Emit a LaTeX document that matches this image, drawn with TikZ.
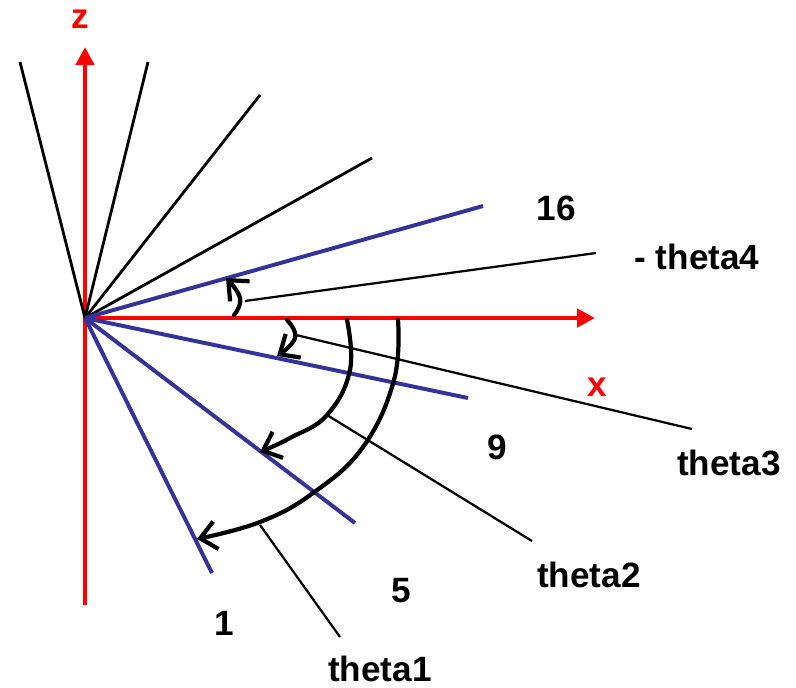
\documentclass[tikz,border=0pt]{standalone}
\usepackage{fontspec}
\setmainfont{Liberation Sans}
\usepackage{tikz}
\usetikzlibrary{arrows.meta,positioning}
\definecolor{raycolor}{RGB}{51,51,153}

\begin{document}
\begin{tikzpicture}[x=0.025cm, y=-0.025cm, thick,
    axis/.style={red, line width=3.4pt, -{Triangle[length=4.5mm, width=4.5mm]}},
    ray/.style={black, line width=2pt},
    bluray/.style={raycolor, line width=2.8pt},
    leader/.style={black, line width=1.6pt},
    turn/.style={black, line width=3pt, line cap=round, -{Straight Barb[length=4mm, width=7mm]}},
    lbl/.style={inner sep=0pt, font=\fontsize{25}{30}\selectfont\bfseries},
    axlbl/.style={lbl, red}]
        \useasboundingbox (0,0) rectangle (796,687);
        \coordinate (O) at (85,318);

        % Axes
        \draw[axis] (85,605) -- (85,47);
        \draw[axis] (O) -- (595,318);
        \node[axlbl] (zl) at (80,19) {z};
        \node[axlbl] (xl) at (597,387) {x};

        % Black rays
        \draw[ray] (O) -- (20,62);
        \draw[ray] (O) -- (148,62);
        \draw[ray] (O) -- (260,95);
        \draw[ray] (O) -- (372,158);

        % Blue rays
        \draw[bluray] (O) -- (483,206);
        \draw[bluray] (O) -- (468,398);
        \draw[bluray] (O) -- (355,523);
        \draw[bluray] (O) -- (212,573);

        % Ray numbers
        \node[lbl] (n16) at (556,208) {16};
        \node[lbl] (n9) at (497,447) {9};
        \node[lbl] (n5) at (401,591) {5};
        \node[lbl] (n1) at (224,623) {1};

        % Angle arrows
        \draw[turn] plot[smooth, tension=0.7] coordinates {(398,320) (394,380) (363,447) (313,493) (260,522) (197,539)};
        \draw[turn] plot[smooth, tension=0.7] coordinates {(347,320) (350,370) (327,415) (290,438) (260,452)};
        \draw[turn] plot[smooth, tension=0.8] coordinates {(287,320) (295,338) (277,356)};
        \draw[turn] plot[smooth, tension=0.8] coordinates {(234,315) (240,298) (226,278)};

        % Angle labels
        \node[lbl] (t4) at (697,257) {- theta4};
        \node[lbl] (t3) at (729,463) {theta3};
        \node[lbl] (t2) at (589,575) {theta2};
        \node[lbl] (t1) at (380,669) {theta1};

        % Leader lines
        \coordinate (a4) at (245,301);
        \coordinate (a3) at (296,335);
        \coordinate (a2) at (327,415);
        \coordinate (a1) at (260,525);
        \draw[leader] (a4) -- (596,253);
        \draw[leader] (a3) -- (692,429);
        \draw[leader] (a2) -- (532,541);
        \draw[leader] (a1) -- (340,637);
\end{tikzpicture}
\end{document}
